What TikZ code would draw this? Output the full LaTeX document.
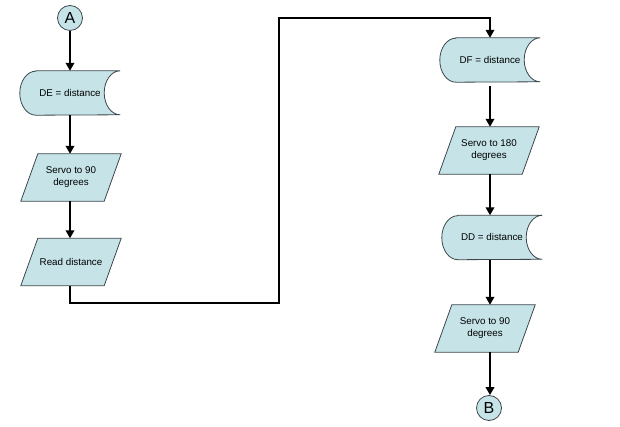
\documentclass[tikz,border=0pt]{standalone}
\usepackage{fontspec}
\setmainfont{Liberation Sans}
\usepackage{tikz}
\usetikzlibrary{backgrounds, arrows.meta, calc}
\definecolor{box_fill}{RGB}{198,228,232}
\definecolor{box_edge}{RGB}{60,70,75}
\tikzset{
  box_font/.style = {font=\fontsize{9.8}{12}\selectfont},
  connector_font/.style = {font=\fontsize{16}{18}\selectfont},
  box_line/.style = {draw=box_edge, line width=0.8pt, fill=box_fill}
}
\tikzset{
  connector/.style = {connector_font, circle, box_line, minimum size=25pt, inner sep=0},
  stored/.style = {box_font, align=center, minimum width=100pt, minimum height=44pt, inner sep=0},
  io/.style = {box_font, align=center, minimum width=100pt, minimum height=47pt, inner sep=0},
  flow/.style = {line width=2.6pt, -{Triangle[length=8pt, width=8.5pt]}}
}
\newcommand{\drawstored}[1]{%
  \draw[box_line] ($(#1.north west)+(16pt,0)$) -- (#1.north east)
    arc[start angle=90, end angle=270, x radius=16pt, y radius=22pt]
    -- ($(#1.south west)+(16pt,0)$)
    arc[start angle=270, end angle=90, x radius=16pt, y radius=22pt] -- cycle;}
\newcommand{\drawio}[1]{%
  \draw[box_line] (#1.south west) -- ($(#1.north west)+(17pt,0)$)
    -- (#1.north east) -- ($(#1.south east)+(-17pt,0)$) -- cycle;}

\begin{document}
\begin{tikzpicture}[x=1pt, y=1pt]
        \useasboundingbox (0,0) rectangle (620,427);

        % Left column
        \node[connector] (a_in) at (70,409) {A};
        \node[stored] (de) at (70,334) {DE = distance};
        \node[io] (servo_1) at (71,249.5) {Servo to 90\\degrees};
        \node[io] (read) at (71,165) {Read distance};

        % Right column
        \node[stored] (df) at (490,367) {DF = distance};
        \node[io] (servo_2) at (489,276.5) {Servo to 180\\degrees};
        \node[stored] (dd) at (492,189.5) {DD = distance};
        \node[io] (servo_3) at (485,98.5) {Servo to 90\\degrees};
        \node[connector] (b_out) at (489,19) {B};

        % Outlines
        \begin{pgfonlayer}{background}
            \drawstored{de}
            \drawstored{df}
            \drawstored{dd}
            \drawio{servo_1}
            \drawio{read}
            \drawio{servo_2}
            \drawio{servo_3}
        \end{pgfonlayer}

        % Turning points
        \coordinate (turn_1) at (279,124);
        \coordinate (turn_2) at (279,409);

        % Arrows
        \draw[flow] (a_in) -- (de.north -| a_in);
        \draw[flow] (de.south -| a_in) -- (servo_1.north -| a_in);
        \draw[flow] (servo_1.south -| a_in) -- (read.north -| a_in);
        \draw[flow] (read.south -| a_in) |- (turn_1) -- (turn_2) -| (df.north);

        \draw[flow] ($(df.south)+(0,-4)$) -- (servo_2.north -| df);
        \draw[flow] (servo_2.south -| df) -- (dd.north -| df);
        \draw[flow] (dd.south -| df) -- (servo_3.north -| df);
        \draw[flow] (servo_3.south -| df) -- (b_out.north -| df);
\end{tikzpicture}
\end{document}
